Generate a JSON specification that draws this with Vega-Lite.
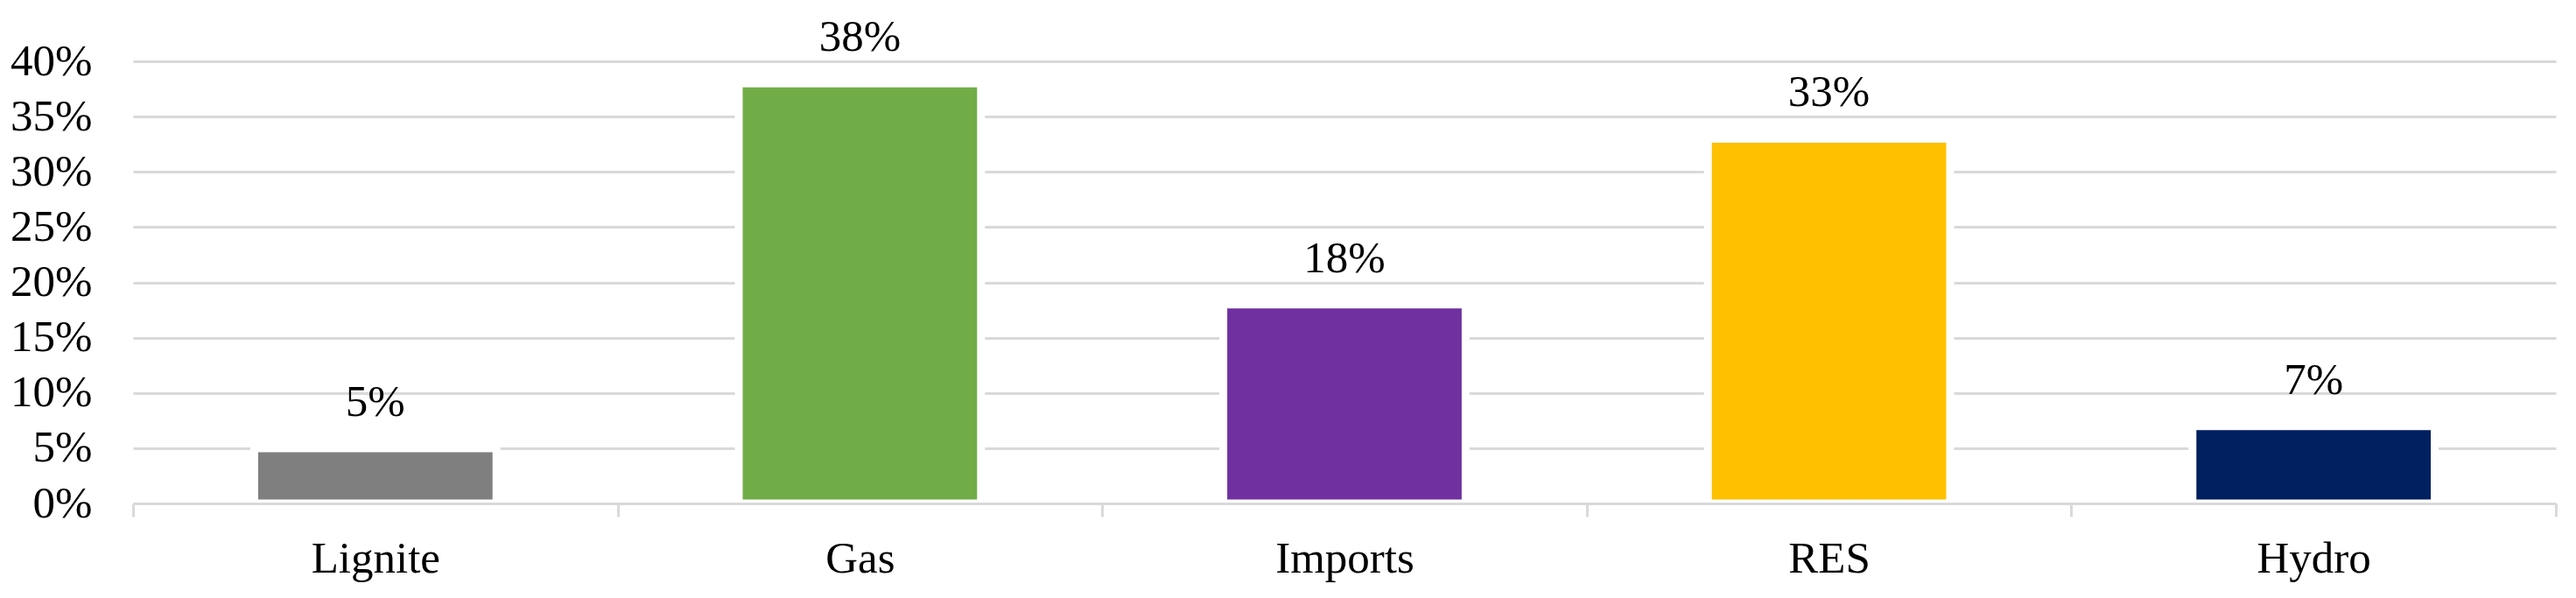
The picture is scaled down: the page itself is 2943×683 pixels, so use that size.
{
  "$schema": "https://vega.github.io/schema/vega-lite/v6.json",
  "autosize": "none",
  "padding": {"left": 152, "top": 70, "right": 23, "bottom": 108},
  "width": 2768,
  "height": 505,
  "background": "white",
  "config": {"view": {"stroke": null}},
  "data": {"values": [
    {"source": "Lignite", "share": 0.05},
    {"source": "Gas", "share": 0.38},
    {"source": "Imports", "share": 0.18},
    {"source": "RES", "share": 0.33},
    {"source": "Hydro", "share": 0.07}
  ]},
  "encoding": {
    "x": {"field": "source", "type": "nominal", "sort": null,
      "scale": {"paddingInner": 0, "paddingOuter": 0},
      "axis": {"title": null, "labelAngle": 0, "grid": false, "tickBand": "extent",
        "domainColor": "#d9d9d9", "domainWidth": 3, "tickColor": "#d9d9d9", "tickWidth": 3, "tickSize": 15,
        "labelFont": "Liberation Serif", "labelFontSize": 51, "labelColor": "#000000", "labelPadding": 23, "zindex": 1}},
    "y": {"field": "share", "type": "quantitative",
      "scale": {"domain": [0, 0.4], "nice": false},
      "axis": {"title": null, "format": ".0%", "values": [0, 0.05, 0.1, 0.15, 0.2, 0.25, 0.3, 0.35, 0.4],
        "domain": false, "ticks": false, "grid": true, "gridColor": "#d9d9d9", "gridWidth": 3,
        "labelFont": "Liberation Serif", "labelFontSize": 51, "labelColor": "#000000", "labelPadding": 47}}
  },
  "layer": [
    {"mark": {"type": "bar", "width": {"band": 0.5}, "stroke": "white", "strokeWidth": 9},
     "encoding": {"color": {"field": "source", "type": "nominal", "legend": null,
       "scale": {"domain": ["Lignite", "Gas", "Imports", "RES", "Hydro"],
                 "range": ["#7f7f7f", "#70ad47", "#7030a0", "#ffc000", "#002060"]}}}},
    {"mark": {"type": "text", "font": "Liberation Serif", "fontSize": 51, "color": "#000000", "baseline": "alphabetic", "dy": -37},
     "encoding": {"text": {"field": "share", "type": "quantitative", "format": ".0%"}}}
  ]
}
